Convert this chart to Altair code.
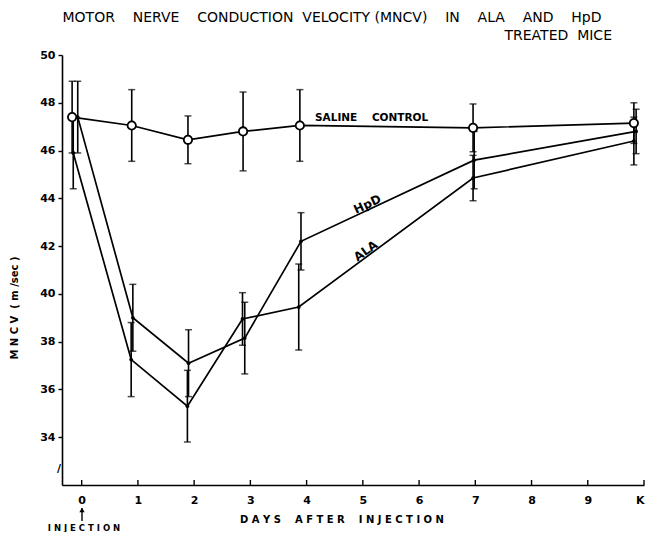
import altair as alt
import pandas as pd

# ---- data ----
saline_days = [-0.17, 0.89, 1.89, 2.87, 3.88, 6.96, 9.82]
saline_mean = [47.4, 47.05, 46.45, 46.8, 47.05, 46.95, 47.15]
saline_err = [1.5, 1.5, 1.0, 1.65, 1.5, 1.0, 0.85]

hpd_days = [-0.07, 0.91, 1.90, 2.90, 3.90, 6.98, 9.86]
hpd_mean = [47.4, 39.0, 37.1, 38.15, 42.2, 45.6, 46.8]
hpd_err = [1.5, 1.4, 1.4, 1.5, 1.2, 1.2, 0.93]

ala_days = [-0.15, 0.88, 1.88, 2.86, 3.86, 6.96, 9.82]
ala_mean = [45.9, 37.25, 35.3, 38.95, 39.45, 44.85, 46.4]
ala_err = [1.5, 1.55, 1.5, 1.1, 1.8, 0.95, 1.0]

x_ticks = [0, 1, 2, 3, 4, 5, 6, 7, 8, 9, 10]
y_ticks = [34, 36, 38, 40, 42, 44, 46, 48, 50]

rows = []
for name, ds, ms, es in [("Saline control", saline_days, saline_mean, saline_err),
                         ("HpD", hpd_days, hpd_mean, hpd_err),
                         ("ALA", ala_days, ala_mean, ala_err)]:
    for d, m, e in zip(ds, ms, es):
        rows.append({"series": name, "day": d, "mean": m, "lo": m - e, "hi": m + e})
df = pd.DataFrame(rows)

W, H = 582, 430
FONT = "DejaVu Sans"
NB = "\u00a0"

xs = alt.Scale(domain=[-0.35, 10], nice=False, zero=False)
ys = alt.Scale(domain=[32, 50], nice=False, zero=False)

x_axis = alt.Axis(
    values=x_ticks, labelExpr="datum.value == 10 ? 'K' : datum.value",
    title=None, ticks=False, grid=False, domainColor="black", domainWidth=1.6,
    labelFont=FONT, labelFontSize=11, labelFontWeight="bold", labelColor="black",
    labelPadding=9)
y_axis = alt.Axis(
    values=y_ticks, title=None, grid=False, domainColor="black", domainWidth=1.6,
    tickColor="black", tickSize=4, tickWidth=1.4,
    labelFont=FONT, labelFontSize=11, labelFontWeight="bold", labelColor="black",
    labelPadding=3)


def X(field="day"):
    return alt.X(f"{field}:Q", scale=xs, axis=x_axis, title=None)


def Y(field):
    return alt.Y(f"{field}:Q", scale=ys, axis=y_axis, title=None)


base = alt.Chart(df)

lines = base.mark_line(color="black", strokeWidth=1.7).encode(
    x=X(), y=Y("mean"), detail="series:N")

err_rule = base.mark_rule(color="black", strokeWidth=1.6).encode(
    x=X(), y=Y("lo"), y2="hi:Q")
cap_lo = base.mark_tick(color="black", orient="horizontal", size=7, thickness=1.5).encode(
    x=X(), y=Y("lo"))
cap_hi = base.mark_tick(color="black", orient="horizontal", size=7, thickness=1.5).encode(
    x=X(), y=Y("hi"))

saline_pts = base.transform_filter(alt.datum.series == "Saline control").mark_point(
    shape="circle", filled=True, fill="white", stroke="black", strokeWidth=1.8, size=70, opacity=1
).encode(x=X(), y=Y("mean"))

drug_pts = base.transform_filter(alt.datum.series != "Saline control").mark_point(
    shape="circle", filled=True, color="black", size=14, opacity=1
).encode(x=X(), y=Y("mean"))

# inward x-axis ticks
tick_df = pd.DataFrame({"day": x_ticks})
x_inner_ticks = alt.Chart(tick_df).mark_rule(color="black", strokeWidth=1.4).encode(
    x=X(), y=alt.value(H), y2=alt.value(H - 5))

# series labels in data coordinates
lab_saline = alt.Chart(pd.DataFrame({"day": [4.15], "v": [47.35], "t": ["SALINE" + NB * 4 + "CONTROL"]})).mark_text(
    align="left", baseline="middle", font=FONT, fontSize=10.5, fontWeight="bold", color="black"
).encode(x=X(), y=Y("v"), text="t:N")
lab_hpd = alt.Chart(pd.DataFrame({"day": [5.08], "v": [43.75], "t": ["HpD"]})).mark_text(
    align="center", baseline="middle", font=FONT, fontSize=12, fontWeight="bold", color="black", angle=335
).encode(x=X(), y=Y("v"), text="t:N")
lab_ala = alt.Chart(pd.DataFrame({"day": [5.05], "v": [41.8], "t": ["ALA"]})).mark_text(
    align="center", baseline="middle", font=FONT, fontSize=12, fontWeight="bold", color="black", angle=324
).encode(x=X(), y=Y("v"), text="t:N")

one = pd.DataFrame({"a": [0]})


def txt(t, x, y, size, align="center", angle=0, weight="normal"):
    kw = dict(align=align, baseline="middle", font=FONT, fontSize=size, fontWeight=weight,
              color="black", text=t)
    if angle:
        kw["angle"] = angle
    return alt.Chart(one).mark_text(**kw).encode(x=alt.value(x), y=alt.value(y))


G = NB * 4
title1 = txt("MOTOR" + G + "NERVE" + G + "CONDUCTION" + NB * 2 + "VELOCITY" + NB + "(MNCV)" + G +
             "IN" + G + "ALA" + G + "AND" + G + "HpD", 270, -37, 14)
title2 = txt("TREATED" + NB * 2 + "MICE", 550, -19, 14, align="right")
ytitle = txt("M N C V" + NB * 2 + "(" + NB + "m /sec" + NB + ")", -47, 253, 10, angle=270, weight="bold")
xtitle = txt("D A Y S" + NB * 4 + "A F T E R" + NB * 4 + "I N J E C T I O N", 280, 465, 10, weight="bold")
inj = txt("I N J E C T I O N", 22, 473, 8.5, weight="bold")
arrow_line = alt.Chart(one).mark_rule(color="black", strokeWidth=1.4).encode(
    x=alt.value(20), y=alt.value(453), y2=alt.value(466))
arrow_head = alt.Chart(one).mark_point(shape="triangle-up", filled=True, color="black", size=28, opacity=1).encode(
    x=alt.value(20), y=alt.value(455))
brk = txt("/", -3, 414, 11, weight="bold")

chart = alt.layer(
    lines, err_rule, cap_lo, cap_hi, saline_pts, drug_pts, x_inner_ticks,
    lab_saline, lab_hpd, lab_ala, title1, title2, ytitle, xtitle, inj, arrow_line, arrow_head, brk
).properties(
    width=W, height=H,
    autosize=alt.AutoSizeParams(type="none"),
    padding={"left": 54, "top": 47, "right": 6, "bottom": 47},
    background="white",
).configure_view(stroke=None)

chart.save("out.html", embed_options={"renderer": "svg", "actions": False})
